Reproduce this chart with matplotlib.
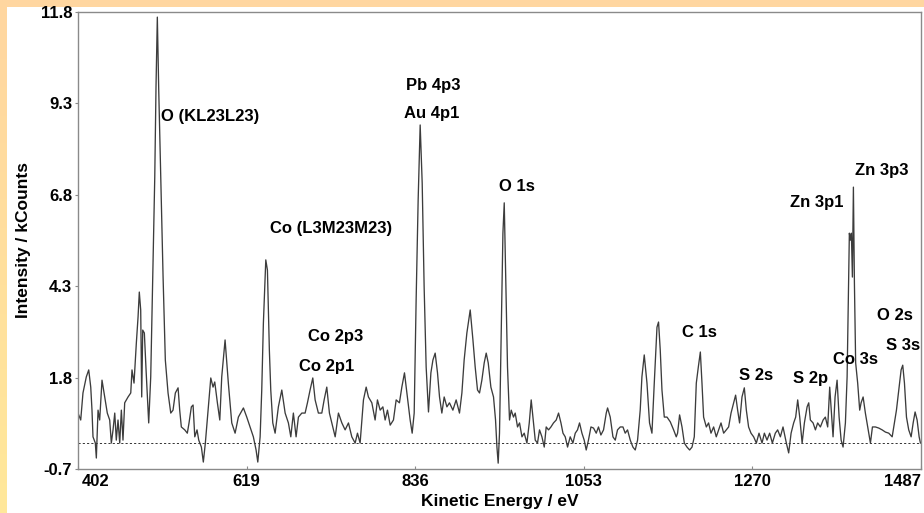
import matplotlib
matplotlib.use('Agg')
import matplotlib.pyplot as plt
import matplotlib.transforms as mtransforms
from matplotlib.colors import LinearSegmentedColormap
import numpy as np

# ---------------- data ----------------
energy_ev = [
    402.0, 405.5, 408.4, 412.7, 415.8, 418.4, 420.0, 421.3, 424.3, 425.6,
    427.8, 429.9, 432.9, 436.4, 439.7, 442.8, 444.9, 447.1, 449.3, 451.3,
    453.5, 455.7, 457.8, 459.9, 462.1, 464.2, 466.4, 469.9, 471.5, 474.1,
    477.1, 479.3, 480.9, 482.7, 484.0, 485.3, 487.4, 489.6, 493.0, 495.6,
    498.2, 500.8, 502.4, 504.1, 505.9, 508.5, 511.5, 514.4, 517.9, 521.4,
    524.3, 527.3, 530.8, 532.9, 535.0, 539.4, 542.7, 544.9, 547.9, 550.1,
    552.3, 555.2, 557.4, 560.8, 563.3, 565.9, 569.4, 572.9, 575.8, 578.0,
    581.4, 584.5, 587.0, 591.3, 595.5, 599.9, 604.2, 608.4, 614.9, 619.2,
    623.5, 627.7, 631.2, 633.4, 636.4, 638.5, 640.6, 643.7, 645.8, 648.3,
    650.1, 652.7, 655.7, 659.9, 664.3, 668.6, 672.8, 675.9, 679.2, 682.7,
    685.7, 690.1, 694.3, 697.3, 700.7, 704.2, 707.2, 711.4, 715.8, 718.8,
    722.2, 725.6, 728.7, 733.0, 737.2, 741.6, 745.8, 750.1, 754.4, 758.7,
    761.7, 765.1, 769.4, 772.9, 775.8, 780.2, 784.4, 787.4, 790.9, 794.4,
    797.3, 800.3, 803.8, 808.0, 811.5, 815.7, 818.8, 822.2, 825.3, 829.5,
    832.1, 834.7, 837.2, 839.8, 842.4, 845.0, 847.5, 850.1, 853.1, 856.2,
    858.8, 861.7, 864.7, 867.3, 870.3, 873.3, 876.8, 880.1, 884.5, 888.7,
    893.0, 896.1, 899.0, 902.5, 906.8, 910.3, 913.2, 916.2, 918.8, 921.8,
    924.8, 927.4, 930.0, 933.4, 936.8, 939.4, 941.2, 942.8, 944.5, 946.7,
    948.9, 950.6, 952.7, 954.8, 957.4, 959.6, 962.5, 964.7, 967.7, 970.3,
    973.4, 976.3, 979.8, 982.8, 985.3, 987.5, 990.5, 993.4, 996.0, 999.1,
    1002.1, 1004.6, 1007.6, 1010.7, 1014.0, 1017.5, 1020.5, 1023.6, 1026.2, 1029.1,
    1032.1, 1035.5, 1039.0, 1042.0, 1044.9, 1047.5, 1050.6, 1053.5, 1056.1, 1059.0,
    1062.2, 1065.5, 1069.0, 1071.9, 1075.0, 1078.4, 1081.9, 1083.6, 1087.0, 1090.5,
    1093.5, 1096.4, 1099.9, 1103.4, 1106.3, 1109.3, 1112.8, 1116.2, 1119.2, 1122.2,
    1125.6, 1127.8, 1130.8, 1134.3, 1137.6, 1140.7, 1143.7, 1147.2, 1149.2, 1151.4,
    1153.6, 1156.6, 1160.1, 1164.3, 1168.6, 1172.0, 1173.7, 1176.3, 1179.4, 1182.4,
    1185.8, 1189.2, 1192.3, 1195.2, 1197.8, 1200.4, 1203.0, 1205.1, 1207.2, 1210.7,
    1213.6, 1216.7, 1220.1, 1223.5, 1226.5, 1229.6, 1233.0, 1236.4, 1239.4, 1242.5,
    1245.8, 1248.4, 1251.0, 1253.5, 1256.6, 1259.6, 1262.2, 1265.1, 1268.2, 1271.6,
    1275.1, 1278.5, 1282.4, 1285.4, 1288.8, 1292.2, 1295.7, 1299.5, 1302.5, 1306.0,
    1309.4, 1313.7, 1316.7, 1319.8, 1323.1, 1325.7, 1328.3, 1330.9, 1334.0, 1336.9,
    1340.4, 1342.5, 1344.6, 1348.1, 1351.1, 1354.0, 1357.5, 1361.0, 1363.9, 1366.9,
    1369.5, 1371.7, 1373.8, 1376.4, 1379.0, 1381.6, 1384.2, 1386.7, 1389.7, 1391.9,
    1393.5, 1394.8, 1396.1, 1397.4, 1398.7, 1400.0, 1401.3, 1402.9, 1405.5, 1408.1,
    1409.9, 1412.5, 1415.4, 1418.4, 1421.9, 1424.5, 1428.3, 1432.6, 1437.0, 1441.2,
    1445.5, 1449.9, 1451.9, 1455.4, 1458.4, 1461.4, 1463.5, 1465.7, 1468.3, 1471.2,
    1474.3, 1476.9, 1479.4, 1482.0, 1484.6, 1486.3,
]

intensity_kcounts = [
    0.83, 0.64, 1.38, 1.82, 2.01, 1.54, 0.91, 0.18, 0.01, -0.40,
    0.91, 0.64, 1.73, 1.27, 0.83, 0.64, 0.01, 0.37, 0.83, 0.09,
    0.64, 0.01, 0.91, 0.09, 1.11, 1.19, 1.27, 1.38, 2.01, 1.65,
    2.75, 3.46, 4.14, 3.65, 1.27, 3.10, 3.02, 2.01, 0.56, 1.82,
    4.55, 7.29, 9.75, 11.66, 9.67, 7.29, 4.55, 2.28, 1.38, 0.83,
    0.91, 1.38, 1.52, 0.91, 0.45, 0.37, 0.28, 0.56, 1.00, 1.05,
    0.18, 0.37, 0.09, -0.10, -0.51, 0.01, 0.91, 1.79, 1.54, 1.68,
    1.11, 0.64, 1.82, 2.83, 1.65, 0.56, 0.28, 0.72, 0.97, 0.72,
    0.45, 0.18, -0.18, -0.51, 0.18, 1.46, 3.29, 5.02, 4.74, 2.55,
    1.46, 0.56, 0.28, 1.00, 1.46, 0.83, 0.56, 0.18, 0.83, 0.18,
    0.72, 0.83, 0.83, 1.11, 1.46, 1.79, 1.19, 0.83, 0.83, 1.19,
    1.54, 0.83, 0.56, 0.18, 0.83, 0.56, 0.37, 0.56, 0.18, 0.01,
    0.28, 0.01, 1.19, 1.54, 1.27, 1.11, 0.64, 1.19, 0.91, 1.00,
    0.64, 0.91, 0.50, 0.64, 1.19, 1.11, 1.54, 1.93, 1.38, 0.64,
    0.28, 0.83, 3.92, 6.66, 8.71, 7.12, 4.28, 2.09, 0.86, 1.93,
    2.28, 2.47, 1.93, 1.27, 0.83, 1.27, 1.00, 1.11, 0.91, 1.19,
    0.83, 1.38, 2.28, 3.02, 3.65, 2.83, 2.09, 1.46, 1.38, 1.73,
    2.20, 2.47, 2.20, 1.54, 1.27, 0.64, -0.10, -0.54, 0.28, 3.02,
    5.75, 6.58, 4.39, 2.09, 0.64, 0.91, 0.72, 0.83, 0.45, 0.56,
    0.18, 0.28, 0.01, 0.56, 1.19, 0.72, 0.09, 0.01, 0.37, 0.18,
    -0.10, 0.45, 0.37, 0.45, 0.56, 0.64, 0.83, 0.56, 0.28, 0.18,
    -0.10, 0.18, 0.01, 0.28, 0.37, 0.56, 0.28, 0.09, -0.18, 0.09,
    0.45, 0.42, 0.28, 0.45, 0.23, 0.37, 0.83, 0.97, 0.72, 0.18,
    0.09, 0.37, 0.45, 0.45, 0.28, 0.37, 0.09, -0.10, -0.18, 0.09,
    0.91, 1.82, 2.42, 1.65, 0.56, 0.28, 1.65, 3.18, 3.32, 2.55,
    1.46, 0.72, 0.72, 0.59, 0.37, 0.18, 0.28, 0.78, 0.45, 0.01,
    -0.10, -0.18, -0.10, 0.18, 1.65, 2.09, 2.50, 1.65, 0.72, 0.45,
    0.56, 0.28, 0.45, 0.18, 0.37, 0.56, 0.28, 0.37, 0.45, 0.83,
    1.11, 1.32, 0.91, 0.56, 1.27, 1.52, 0.91, 0.45, 0.28, 0.18,
    0.01, 0.28, 0.01, 0.28, 0.09, 0.28, 0.01, 0.28, 0.37, 0.18,
    0.45, 0.01, -0.26, 0.28, 0.56, 0.72, 1.19, 0.72, 0.01, 0.56,
    1.00, 1.11, 0.64, 0.56, 0.37, 0.56, 0.45, 0.64, 0.72, 0.45,
    1.54, 0.83, 0.18, 1.27, 1.73, 0.72, 0.09, -0.10, 0.56, 1.82,
    3.92, 5.75, 5.56, 5.75, 4.55, 7.01, 4.39, 2.20, 1.65, 0.91,
    1.11, 1.27, 0.83, 0.45, 0.01, 0.45, 0.45, 0.42, 0.37, 0.31,
    0.28, 0.18, 0.45, 0.91, 1.46, 2.01, 2.14, 1.65, 0.72, 0.37,
    0.18, 0.56, 0.86, 0.64, 0.18, 0.01,
]

peak_labels = ["O (KL23L23)", "Co (L3M23M23)", "Co 2p3", "Co 2p1",
               "Pb 4p3", "Au 4p1", "O 1s", "C 1s", "S 2s", "S 2p",
               "Co 3s", "Zn 3p1", "Zn 3p3", "O 2s", "S 3s"]
label_energy = [508.9, 649.2, 697.8, 686.6,
                859.1, 856.9, 967.3, 1202.3, 1274.4, 1345.2,
                1402.5, 1352.7, 1436.0, 1453.7, 1463.9]
label_intensity = [8.93, 5.89, 2.92, 2.10,
                   9.78, 9.03, 7.04, 3.04, 1.87, 1.77,
                   2.30, 6.58, 7.46, 3.49, 2.67]
label_align = ["left", "left", "left", "left",
               "center", "center", "center", "center", "center", "center",
               "center", "center", "center", "center", "center"]

x_ticks = [402, 619, 836, 1053, 1270, 1487]
y_ticks = [-0.7, 1.8, 4.3, 6.8, 9.3, 11.8]
x_label = "Kinetic Energy / eV"
y_label = "Intensity / kCounts"

# ---------------- figure ----------------
plt.rcParams['font.family'] = ['Liberation Sans', 'DejaVu Sans']
plt.rcParams['font.weight'] = 'bold'

W, H = 924, 513
fig = plt.figure(figsize=(W / 100, H / 100), dpi=100)
fig.patch.set_facecolor('white')

# decorative border strips (top peach, left peach->yellow)
bg = fig.add_axes([0, 0, 1, 1], zorder=-10)
bg.axis('off')
bg.add_patch(plt.Rectangle((0, 0), W, 7, color='#FFD6A0', lw=0))
grad = np.linspace(0, 1, 200).reshape(-1, 1)
cm = LinearSegmentedColormap.from_list('strip', ['#FFD6A0', '#FFE89A'])
bg.imshow(grad, cmap=cm, extent=(0, 6.5, H, 0), aspect='auto', zorder=1)
bg.set_xlim(0, W)
bg.set_ylim(H, 0)

left, right, top, bottom = 78, 921, 12, 469
ax = fig.add_axes([left / W, 1 - bottom / H, (right - left) / W, (bottom - top) / H])
ax.set_facecolor('white')

ax.axhline(0, color='#333333', lw=0.7, ls=(0, (2.2, 2.2)), zorder=1)
ax.plot(energy_ev, intensity_kcounts, color='#3c3c3c', lw=0.95, zorder=2)

ax.set_xlim(x_ticks[0], x_ticks[-1])
ax.set_ylim(y_ticks[0], y_ticks[-1])
ax.set_xticks(x_ticks)
ax.set_yticks(y_ticks)
ax.set_xticklabels([str(v) for v in x_ticks])
ax.set_yticklabels([f"{v:.1f}" for v in y_ticks])

for s in ax.spines.values():
    s.set_color('#8a8a8a')
    s.set_linewidth(1.0)

ax.tick_params(axis='y', direction='out', length=2.5, width=0.8, color='#8a8a8a',
               pad=1.8, labelsize=12)
ax.tick_params(axis='x', direction='in', length=2.5, width=0.8, color='#8a8a8a',
               pad=3.5, labelsize=12)
for lab in ax.get_xticklabels() + ax.get_yticklabels():
    lab.set_fontweight('bold')
xl = ax.get_xticklabels()
xl[0].set_horizontalalignment('left')
xl[0].set_transform(xl[0].get_transform() +
                    mtransforms.ScaledTranslation(0.04, 0, fig.dpi_scale_trans))
xl[-1].set_horizontalalignment('right')

ax.set_xlabel(x_label, fontsize=12.5, fontweight='bold', labelpad=4)
ax.set_ylabel(y_label, fontsize=12.5, fontweight='bold', labelpad=7)

for txt, ex, iy, ha in zip(peak_labels, label_energy, label_intensity, label_align):
    ax.text(ex, iy, txt, ha=ha, va='center', fontsize=12, fontweight='bold',
            color='black', zorder=3)

fig.savefig('out.png', dpi=100, facecolor='white')
